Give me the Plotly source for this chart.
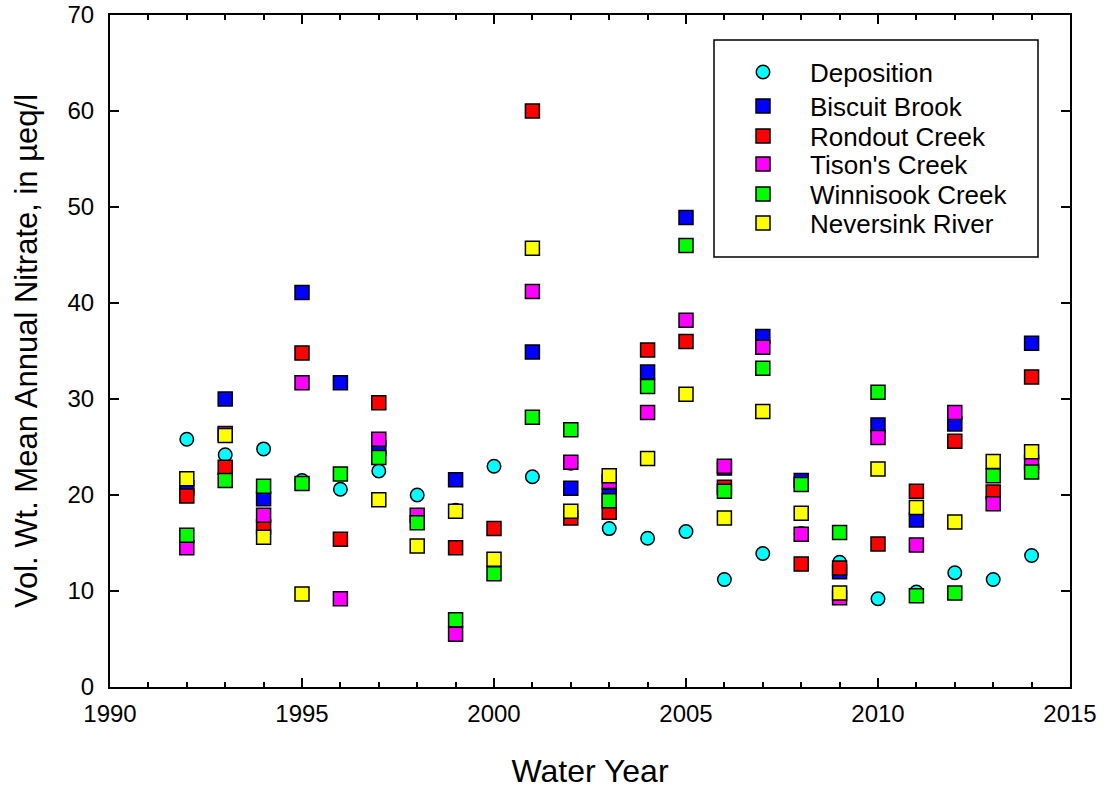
import plotly.graph_objects as go

years = list(range(1992, 2015))

deposition = [25.8, 24.2, 24.8, 21.5, 20.6, 22.5, 20.0, 18.4, 23.0, 21.9, 23.3, 16.5,
              15.5, 16.2, 11.2, 13.9, 16.0, 13.0, 9.2, 9.9, 11.9, 11.2, 13.7]
biscuit_brook = [20.75, 30.0, 19.6, 41.1, 31.7, 24.9, None, 21.6, None, 34.9, 20.7, 19.9,
                 32.8, 48.9, 22.8, 36.5, 21.5, 12.0, 27.3, 17.4, 27.4, None, 35.8]
rondout_creek = [19.9, 22.9, 16.7, 34.8, 15.4, 29.6, None, 14.5, 16.5, 60.0, 17.6, 18.2,
                 35.1, 36.0, 20.8, None, 12.8, 12.4, 14.9, 20.4, 25.6, 20.3, 32.3]
tisons_creek = [14.5, 26.4, 17.9, 31.7, 9.2, 25.8, 17.9, 5.5, None, 41.2, 23.4, 21.4,
                28.6, 38.2, 23.0, 35.4, 15.9, 9.3, 26.0, 14.8, 28.6, 19.1, 23.4]
winnisook_creek = [15.8, 21.5, 20.9, 21.2, 22.2, 23.9, 17.1, 7.0, 11.8, 28.1, 26.8, 19.4,
                   31.3, 46.0, 20.4, 33.2, 21.1, 16.1, 30.7, 9.5, 9.8, 22.0, 22.4]
neversink_river = [21.7, 26.2, 15.6, 9.7, None, 19.5, 14.7, 18.3, 13.3, 45.7, 18.3, 22.0,
                   23.8, 30.5, 17.6, 28.7, 18.1, 9.8, 22.7, 18.7, 17.2, 23.5, 24.5]

x_ticks = [1990, 1995, 2000, 2005, 2010, 2015]
y_ticks = [0, 10, 20, 30, 40, 50, 60, 70]

FONT = "Arial, 'Liberation Sans', sans-serif"

series = [
    ("Deposition", deposition, "circle", "#00FFFF", 13.5),
    ("Biscuit Brook", biscuit_brook, "square", "#0000FF", 14),
    ("Rondout Creek", rondout_creek, "square", "#FF0000", 14),
    ("Tison's Creek", tisons_creek, "square", "#FF00FF", 14),
    ("Winnisook Creek", winnisook_creek, "square", "#00FF00", 14),
    ("Neversink River", neversink_river, "square", "#FFFF00", 14),
]

# plot area in pixels
L, R, T, B = 110, 1070, 15, 687
W, H = R - L, B - T
LEG_FONT = 26
# pixel y of each legend entry's text centre
legend_rows = [73, 107, 137, 165, 195, 224]
row_offset = (LEG_FONT * 1.3 + 3) / 2 + 5 + 1

fig = go.Figure()
layout_legends = {}
for i, (name, vals, sym, col, size) in enumerate(series):
    key = "legend" if i == 0 else f"legend{i + 1}"
    fig.add_trace(go.Scatter(
        x=years, y=vals, mode="markers", name=name, legend=key,
        marker=dict(symbol=sym, color=col, size=size,
                    line=dict(color="black", width=1.5)),
    ))
    top_px = legend_rows[i] - row_offset
    layout_legends[key] = dict(
        x=(716 - L) / W, y=(B - top_px) / H,
        xanchor="left", yanchor="top",
        bgcolor="rgba(0,0,0,0)", borderwidth=0,
        font=dict(family=FONT, size=LEG_FONT, color="black"),
        itemwidth=84,
    )

fig.update_layout(
    width=1105, height=789,
    margin=dict(l=L, r=1105 - R, t=T, b=789 - B, autoexpand=False),
    paper_bgcolor="white", plot_bgcolor="white",
    font=dict(family=FONT, color="black"),
    showlegend=True,
    shapes=[dict(
        type="rect", xref="paper", yref="paper",
        x0=(714 - L) / W, x1=(1038 - L) / W,
        y0=(B - 257) / H, y1=(B - 40) / H,
        line=dict(color="black", width=1.5), fillcolor="rgba(0,0,0,0)",
    )],
    xaxis=dict(
        range=[1990, 2015], tickvals=x_ticks, ticktext=[str(v) for v in x_ticks],
        showgrid=False, zeroline=False, automargin=False,
        showline=True, linecolor="black", linewidth=2, mirror="ticks",
        ticks="inside", ticklen=9, tickwidth=1.5, tickcolor="black",
        tickfont=dict(family=FONT, size=24, color="black"),
        ticklabelstandoff=4,
        minor=dict(dtick=1, ticks="inside", ticklen=5, tickwidth=1.5,
                   tickcolor="black", showgrid=False),
        title=dict(text="Water Year", font=dict(family=FONT, size=32, color="black"),
                   standoff=35),
    ),
    yaxis=dict(
        range=[0, 70], tickvals=y_ticks, ticktext=[str(v) for v in y_ticks],
        showgrid=False, zeroline=False, automargin=False,
        showline=True, linecolor="black", linewidth=2, mirror="ticks",
        ticks="inside", ticklen=9, tickwidth=1.5, tickcolor="black",
        tickfont=dict(family=FONT, size=24, color="black"),
        ticklabelstandoff=9,
        title=dict(text="Vol. Wt. Mean Annual Nitrate, in \u00b5eq/l",
                   font=dict(family=FONT, size=31, color="black"), standoff=21),
    ),
    **layout_legends,
)

fig.write_html("out.html")
